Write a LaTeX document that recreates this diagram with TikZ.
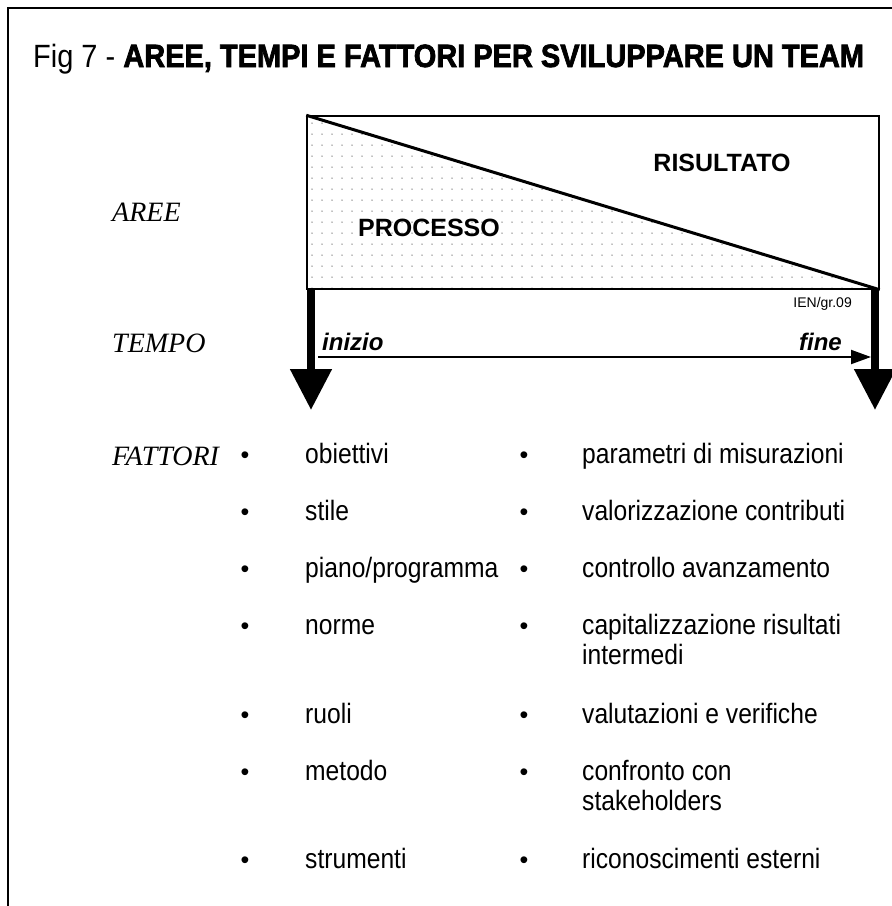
\documentclass[tikz,border=0pt]{standalone}
\usepackage{fontspec}
\setmainfont{Liberation Sans}
\newfontfamily\romanfam{Liberation Serif}
\newfontfamily\narrowfam[FakeStretch=0.88]{Liberation Sans}
\newfontfamily\titlefam[FakeStretch=0.9, BoldFeatures={FakeBold=2.2}]{Liberation Sans}
\usetikzlibrary{arrows.meta}

\tikzset{
  frameline/.style={line width=2},
  rowlabel/.style={anchor=base west, inner sep=0, font=\romanfam\itshape\fontsize{28}{30}\selectfont},
  areatext/.style={inner sep=0, font=\bfseries\fontsize{25}{28}\selectfont},
  timetext/.style={anchor=base west, inner sep=0, font=\bfseries\itshape\fontsize{24}{28}\selectfont},
  bulletmark/.style={anchor=base, inner sep=0, font=\fontsize{25}{30}\selectfont},
  itemtext/.style={anchor=base west, inner sep=0, align=left, font=\narrowfam\fontsize{28}{30}\selectfont},
  bigarrow/.style={line width=8, -{Triangle[width=40, length=41]}},
  timeline/.style={line width=2, -{Triangle[width=14, length=20]}}
}

\begin{document}
\begin{tikzpicture}[x=1pt, y=-1pt]
  \useasboundingbox (0,0) rectangle (892,906);

  % outer frame (left and top sides)
  \coordinate (fbl) at (8,906);
  \coordinate (ftl) at (8,8);
  \coordinate (ftr) at (892,8);
  \draw[frameline] (fbl) -- (ftl) -- (ftr);

  % title
  \node[anchor=base west, inner sep=0, font=\titlefam\fontsize{32.2}{34}\selectfont] (title) at (33,67)
    {Fig 7 - \textbf{AREE, TEMPI E FATTORI PER SVILUPPARE UN TEAM}};

  % areas box split by the diagonal
  \coordinate (bnw) at (307,116);
  \coordinate (bse) at (879,289);
  \coordinate (bsw) at (307,289);
  \begin{scope}
    \clip (bnw) -- (bse) -- (bsw) -- cycle;
    \foreach \xx in {312,322,...,880} {
      \foreach \yy in {123,134,...,289} {
        \fill[black!50] (\xx,\yy) circle (0.75);
      }
    }
  \end{scope}
  \node[draw, line width=1.5, minimum width=572, minimum height=173, inner sep=0] (box) at (593,202.5) {};
  \draw[line width=3] (box.north west) -- (box.south east);
  \node[areatext] (ris) at (722,163) {RISULTATO};
  \node[areatext] (proc) at (429,228) {PROCESSO};
  \node[anchor=base east, inner sep=0, font=\fontsize{14}{16}\selectfont] (code) at (852,307) {IEN/gr.09};

  % row labels
  \node[rowlabel] (aree) at (112,221) {AREE};
  \node[rowlabel] (tempo) at (112,352) {TEMPO};
  \node[rowlabel] (fattori) at (112,465) {FATTORI};

  % time axis
  \coordinate (ls) at (311,289);
  \coordinate (le) at (311,410);
  \coordinate (rs) at (875,289);
  \coordinate (re) at (875,410);
  \draw[bigarrow] (ls) -- (le);
  \draw[bigarrow] (rs) -- (re);
  \coordinate (ts) at (318,357);
  \coordinate (te) at (871,357);
  \draw[timeline] (ts) -- (te);
  \node[timetext] (inizio) at (322,350) {inizio};
  \node[timetext, anchor=base east] (fine) at (842,350) {fine};

  % factors, process column
  \foreach \n/\yy/\txt in {a1/463/obiettivi, a2/520/stile, a3/577/{piano/programma}, a4/634/norme,
                          a5/723/ruoli, a6/780/metodo, a7/868/strumenti} {
    \node[bulletmark] (b\n) at (245,\yy) {•};
    \node[itemtext] (\n) at (305,\yy) {\txt};
  }
  % factors, result column (multi-line items sit on the baseline of their last line)
  \node[bulletmark] (bb1) at (524,463) {•};
  \node[itemtext] (b1) at (582,463) {parametri di misurazioni};
  \node[bulletmark] (bb2) at (524,520) {•};
  \node[itemtext] (b2) at (582,520) {valorizzazione contributi};
  \node[bulletmark] (bb3) at (524,577) {•};
  \node[itemtext] (b3) at (582,577) {controllo avanzamento};
  \node[bulletmark] (bb4) at (524,634) {•};
  \node[itemtext] (b4) at (582,664) {capitalizzazione risultati\\intermedi};
  \node[bulletmark] (bb5) at (524,723) {•};
  \node[itemtext] (b5) at (582,723) {valutazioni e verifiche};
  \node[bulletmark] (bb6) at (524,780) {•};
  \node[itemtext] (b6) at (582,810) {confronto con\\stakeholders};
  \node[bulletmark] (bb7) at (524,868) {•};
  \node[itemtext] (b7) at (582,868) {riconoscimenti esterni};
\end{tikzpicture}
\end{document}
